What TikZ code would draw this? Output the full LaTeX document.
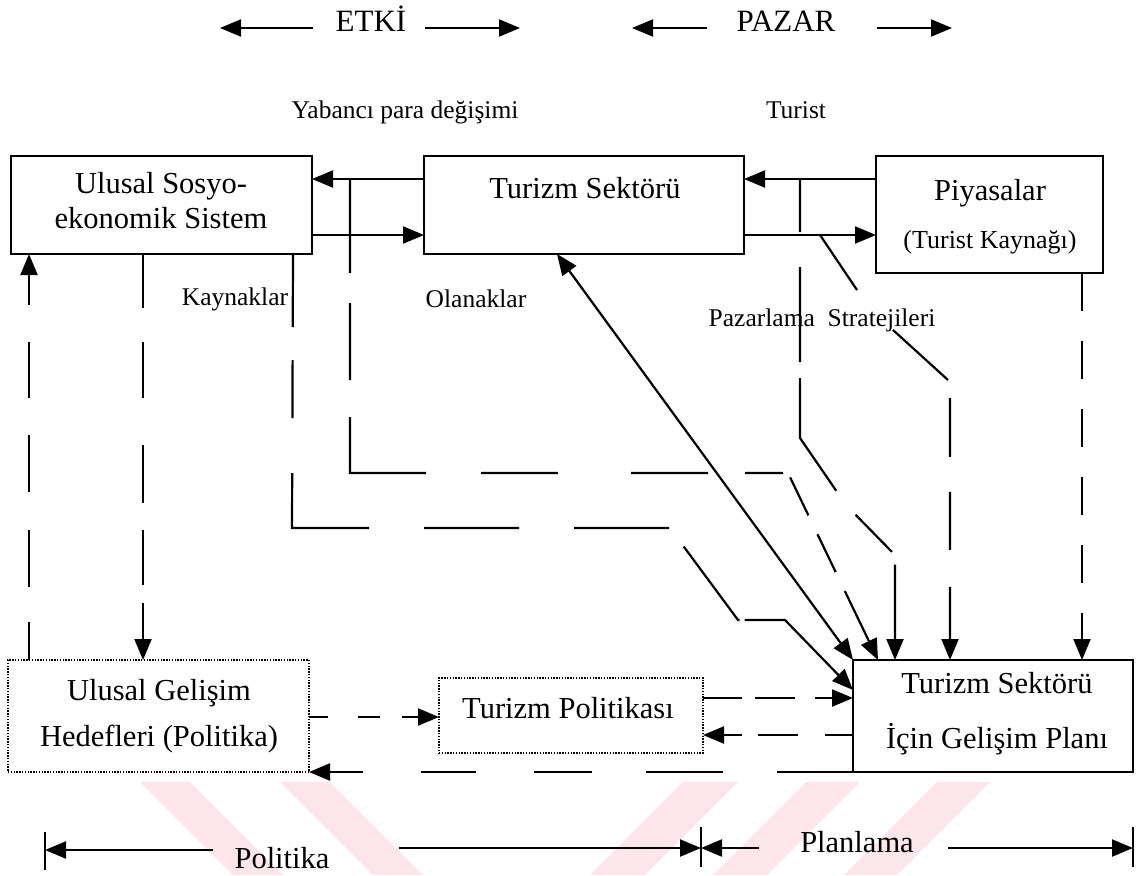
\documentclass[tikz,border=0pt]{standalone}
\usepackage{fontspec}
\setmainfont{Liberation Serif}
\usetikzlibrary{arrows.meta}
\definecolor{wm}{RGB}{252,230,235}
\tikzset{
  box/.style={draw, line width=2pt, inner sep=0pt, outer sep=0pt},
  dbox/.style={draw, line width=1.5pt, dash pattern=on 1.4pt off 1.4pt, inner sep=0pt, outer sep=0pt},
  ln/.style={line width=2.2pt},
  arr/.style={line width=2.2pt, -{Triangle[length=21pt,width=17pt]}},
  arrtwo/.style={line width=2.2pt, {Triangle[length=21pt,width=17pt]}-{Triangle[length=21pt,width=17pt]}},
  txtT/.style={anchor=base, inner sep=0pt, font=\fontsize{31}{36}\selectfont},
  txtL/.style={anchor=base, inner sep=0pt, font=\fontsize{30.5}{36}\selectfont},
  txtM/.style={anchor=base, inner sep=0pt, font=\fontsize{26}{30}\selectfont},
  txtS/.style={anchor=base, inner sep=0pt, font=\fontsize{25.5}{30}\selectfont},
}
\begin{document}
\begin{tikzpicture}[x=1pt,y=-1pt]
\useasboundingbox (0,0) rectangle (1137,875);

% watermark stripes
\fill[wm] (140,782) -- (190,782) -- (283,875) -- (233,875) -- cycle;
\fill[wm] (280,782) -- (330,782) -- (423,875) -- (373,875) -- cycle;
\fill[wm] (683,782) -- (738,782) -- (645,875) -- (590,875) -- cycle;
\fill[wm] (806,782) -- (860,782) -- (767,875) -- (713,875) -- cycle;
\fill[wm] (937,782) -- (990,782) -- (897,875) -- (844,875) -- cycle;

% helper coordinates
\coordinate (yT) at (0,179);
\coordinate (yB) at (0,235);
\coordinate (y690) at (0,690);
\coordinate (y698) at (0,698);
\coordinate (y717) at (0,717);
\coordinate (y735) at (0,735);
\coordinate (x29) at (29,0);
\coordinate (x143) at (143,0);
\coordinate (x293) at (293,0);
\coordinate (x557) at (557,0);
\coordinate (x878) at (878,0);
\coordinate (x895) at (895,0);
\coordinate (x950) at (950,0);
\coordinate (x1082) at (1082,0);

% top labels
\node[txtT] (etki) at (371,32) {ETKİ};
\node[txtT] (pazar) at (786,32) {PAZAR};
\coordinate (eL1) at (313,28); \coordinate (eL2) at (220,28);
\coordinate (eR1) at (425,28); \coordinate (eR2) at (520,28);
\coordinate (pL1) at (707,28); \coordinate (pL2) at (632,28);
\coordinate (pR1) at (877,28); \coordinate (pR2) at (952,28);
\draw[arr] (eL1) -- (eL2);
\draw[arr] (eR1) -- (eR2);
\draw[arr] (pL1) -- (pL2);
\draw[arr] (pR1) -- (pR2);
\node[txtS] (yab) at (405,118) {Yabancı para değişimi};
\node[txtS] (tur) at (796,118) {Turist};

% boxes
\node[box, minimum width=301pt, minimum height=98pt] (A) at (161.5,205) {};
\node[box, minimum width=320pt, minimum height=98pt] (B) at (584,205) {};
\node[box, minimum width=227pt, minimum height=117pt] (C) at (989.5,214.5) {};
\node[box, minimum width=280pt, minimum height=112pt] (D) at (993,716) {};
\node[dbox, minimum width=301pt, minimum height=112pt] (G) at (158.5,716) {};
\node[dbox, minimum width=264pt, minimum height=75pt] (P) at (571,715.5) {};

% box texts
\node[txtL] (At1) at (161,193) {Ulusal Sosyo-};
\node[txtL] (At2) at (161,228) {ekonomik Sistem};
\node[txtL] (Bt) at (585,198) {Turizm Sektörü};
\node[txtL] (Ct1) at (990,200) {Piyasalar};
\node[txtM] (Ct2) at (990,248) {(Turist Kaynağı)};
\node[txtL] (Dt1) at (997,693) {Turizm Sektörü};
\node[txtL] (Dt2) at (997,748) {İçin Gelişim Planı};
\node[txtL] (Gt1) at (159,700) {Ulusal Gelişim};
\node[txtL] (Gt2) at (159,746) {Hedefleri (Politika)};
\node[txtL] (Pt) at (568,718) {Turizm Politikası};

% side labels
\node[txtS] (kay) at (235,305) {Kaynaklar};
\node[txtS] (ola) at (476,307) {Olanaklar};
\node[txtS] (paz) at (822,326) {Pazarlama\ \ Stratejileri};

% top horizontal arrows
\draw[arr] (B.west |- yT) -- (A.east |- yT);
\draw[arr] (A.east |- yB) -- (B.west |- yB);
\draw[arr] (C.west |- yT) -- (B.east |- yT);
\draw[arr] (B.east |- yB) -- (C.west |- yB);

% Olanaklar loop
\draw[arr, dash pattern=on 94pt off 30pt on 77pt off 37pt on 132pt off 55pt on 77pt off 73pt on 77pt off 37pt on 38pt off 10pt on 42pt off 21pt on 42pt off 21pt on 300pt]
  (350,179) -- (350,473) -- (788,473) -- (x878 |- D.north);

% Kaynaklar path
\draw[arr, dash pattern=on 73pt off 33pt on 58pt off 55pt on 132pt off 55pt on 95pt off 55pt on 95pt off 24pt on 93pt off 5pt on 300pt]
  (x293 |- A.south) -- (292,528) -- (670,528) -- (738,620) -- (785,620) -- (D.west |- y690);

% Turist path
\draw[arr, dash pattern=on 53pt off 35pt on 95pt off 16pt on 124pt off 31pt on 52pt off 14pt on 300pt]
  (800,179) -- (800,438) -- (846,505) -- (895,555) -- (x895 |- D.north);

% Pazarlama path
\draw[arr, dash pattern=on 66.3pt off 53.8pt on 74.3pt off 18.1pt on 59pt off 35pt on 58pt off 37pt on 300pt]
  (820,235) -- (857,290) -- (893,330) -- (948,380) -- (950,398) -- (x950 |- D.north);

% main double arrow
\draw[arrtwo] (x557 |- B.south) -- (D.north west);

% C to D
\draw[arr, dash pattern=on 38pt off 30pt] (x1082 |- C.south) -- (x1082 |- D.north);

% A to G and G to A
\draw[arr, dash pattern=on 54pt off 34pt on 56pt off 47pt on 58pt off 27pt on 55pt off 18pt on 200pt]
  (x143 |- A.south) -- (x143 |- G.north);
\draw[arr, dash pattern=on 38pt off 35pt on 57pt off 38pt on 57pt off 37pt on 56pt off 37pt on 200pt]
  (x29 |- G.north) -- (x29 |- A.south);

% bottom row connectors
\draw[arr, dash pattern=on 19pt off 30pt on 22pt off 22pt on 100pt] (G.east |- y717) -- (P.west |- y717);
\draw[arr, dash pattern=on 39pt off 13pt on 40pt off 20pt on 100pt] (P.east |- y698) -- (D.west |- y698);
\draw[arr, dash pattern=on 28pt off 27pt on 40pt off 16pt on 100pt] (D.west |- y735) -- (P.east |- y735);
\draw[arr, dash pattern=on 76pt off 54pt on 77pt off 54pt on 58pt off 58pt on 55pt off 58pt on 100pt] (D.south west) -- (G.south east);

% bottom scale
\node[txtL] (pol) at (282,868) {Politika};
\node[txtL] (pla) at (857,852) {Planlama};
\coordinate (b1t) at (45,832); \coordinate (b1b) at (45,870); \coordinate (b1) at (45,850);
\coordinate (b2t) at (701,827); \coordinate (b2b) at (701,867); \coordinate (b2) at (701,848);
\coordinate (b3t) at (1133,827); \coordinate (b3b) at (1133,867); \coordinate (b3) at (1133,848);
\coordinate (polL) at (213,850); \coordinate (polR) at (399,848);
\coordinate (plaL) at (759,848); \coordinate (plaR) at (948,848);
\draw[ln, line width=1.3pt] (b1t) -- (b1b);
\draw[ln, line width=1.3pt] (b2t) -- (b2b);
\draw[ln, line width=1.3pt] (b3t) -- (b3b);
\draw[arr] (polL) -- (b1);
\draw[arr] (polR) -- (b2);
\draw[arr] (plaL) -- (b2);
\draw[arr] (plaR) -- (b3);
\end{tikzpicture}
\end{document}
